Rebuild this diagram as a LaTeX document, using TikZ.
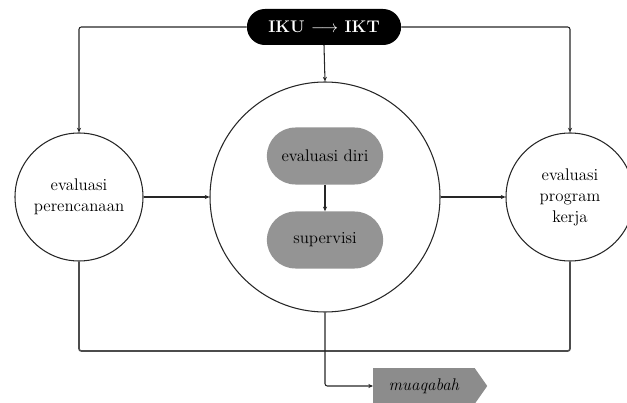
\documentclass[tikz,border=0pt]{standalone}
\usetikzlibrary{arrows.meta,shapes.symbols,shapes.misc}
\begin{document}
\begin{tikzpicture}[x=0.03cm,y=-0.03cm,
  link/.style={draw=black!85,line width=0.9pt,rounded corners=2pt},
  tip/.style={-{Stealth[length=4pt,width=3.5pt]}},
  bigcircle/.style={circle,draw=black!85,line width=0.9pt,fill=white,inner sep=0pt,align=center,font=\Large},
  graypill/.style={rounded rectangle,fill=black!42,minimum width=3.72cm,minimum height=1.71cm,font=\Large},
  toppill/.style={rounded rectangle,fill=black,text=white,minimum width=4.86cm,minimum height=1.08cm,font=\Large\bfseries},
  signalbox/.style={signal,signal to=east,signal pointer angle=110,fill=black!45,minimum width=3.42cm,minimum height=1.08cm,inner xsep=8pt,font=\Large\itshape}
]
\useasboundingbox (0,0) rectangle (627,403);

% nodes
\node[toppill] (iku) at (324,27) {IKU $\longrightarrow$ IKT};
\node[bigcircle,minimum size=3.84cm] (left) at (79,197) {evaluasi\\perencanaan};
\node[bigcircle,minimum size=6.9cm] (mid) at (325,197) {};
\node[bigcircle,minimum size=3.84cm] (right) at (570,197) {evaluasi\\program\\kerja};
\node[graypill] (diri) at (325,156) {evaluasi diri};
\node[graypill] (sup) at (325,240) {supervisi};
\node[signalbox,anchor=west] (muq) at (373,386) {muaqabah\hspace{1em}};

% helper coordinates
\coordinate (tl) at (79,27);
\coordinate (tr) at (570,27);
\coordinate (bl) at (79,351);
\coordinate (br) at (570,351);
\coordinate (bm) at (mid.south |- muq.west);

% connectors
\draw[link,tip] (iku.west) -- (tl) -- (left.north);
\draw[link,tip] (iku.east) -- (tr) -- (right.north);
\draw[link,tip] (iku.south) -- (mid.north);
\draw[link,tip] (left.east) -- (mid.west);
\draw[link,tip] (mid.east) -- (right.west);
\draw[link,tip] (diri.south) -- (sup.north);
\draw[link,draw=black!70,line width=1.4pt] (left.south) -- (bl) -- (br) -- (right.south);
\draw[link,tip] (mid.south) -- (bm) -- (muq.west);
\end{tikzpicture}
\end{document}
